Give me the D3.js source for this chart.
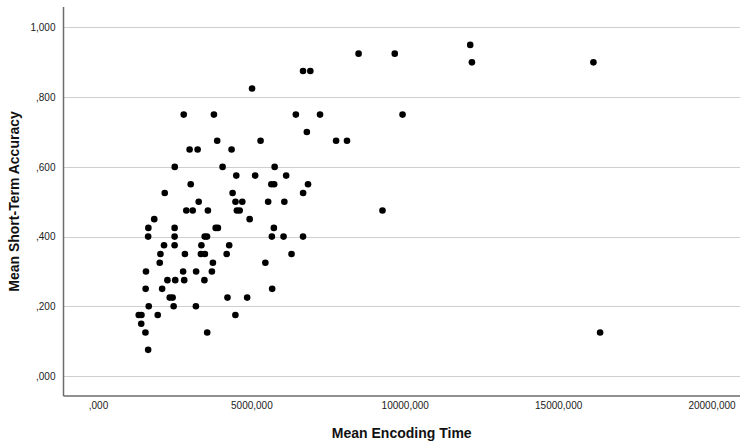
<!DOCTYPE html>
<html>
<head>
<meta charset="utf-8">
<script src="https://cdn.jsdelivr.net/npm/d3@7"></script>
<style>
  html, body { margin: 0; padding: 0; background: #fff; }
  svg { display: block; font-family: "Liberation Sans", Arial, sans-serif; }
</style>
</head>
<body>
<svg id="chart" width="740" height="445"></svg>
<script>
// ---- Data ----
const encodingTime = [
  8495, 9674, 12134, 12189, 16150, 6684, 6922, 5023,
  2795, 3779, 6450, 7238, 9928, 6808,
  3886, 5300, 7762, 8117, 2987, 3248, 4355,
  2502, 4062, 5759, 4508, 5124, 6134,
  3023, 5651, 5743, 6847, 2176, 4388, 6687,
  3283, 4482, 4704, 5547, 6075,
  2879, 3088, 3583, 4528, 4619, 9274, 1834, 4945,
  1642, 2498, 3837, 3909, 5733,
  1635, 2498, 3479, 3554, 5668, 6049, 6684,
  2153, 2498, 3371, 4277,
  2036, 2834, 3355, 3485, 4195, 6309,
  2013, 3746, 5456,
  1564, 2775, 3199, 3713,
  2264, 2518, 2811, 3469,
  1554, 2091, 5678,
  2339, 2433, 4221, 4863,
  1655, 2466, 3192,
  1329, 1417, 1948, 4479,
  1410, 1547, 3560, 16368, 1635
];
const accuracy = [
  0.925, 0.925, 0.95, 0.9, 0.9, 0.875, 0.875, 0.825,
  0.75, 0.75, 0.75, 0.75, 0.75, 0.7,
  0.675, 0.675, 0.675, 0.675, 0.65, 0.65, 0.65,
  0.6, 0.6, 0.6, 0.575, 0.575, 0.575,
  0.55, 0.55, 0.55, 0.55, 0.525, 0.525, 0.525,
  0.5, 0.5, 0.5, 0.5, 0.5,
  0.475, 0.475, 0.475, 0.475, 0.475, 0.475, 0.45, 0.45,
  0.425, 0.425, 0.425, 0.425, 0.425,
  0.4, 0.4, 0.4, 0.4, 0.4, 0.4, 0.4,
  0.375, 0.375, 0.375, 0.375,
  0.35, 0.35, 0.35, 0.35, 0.35, 0.35,
  0.325, 0.325, 0.325,
  0.3, 0.3, 0.3, 0.3,
  0.275, 0.275, 0.275, 0.275,
  0.25, 0.25, 0.25,
  0.225, 0.225, 0.225, 0.225,
  0.2, 0.2, 0.2,
  0.175, 0.175, 0.175, 0.175,
  0.15, 0.125, 0.125, 0.125, 0.075
];
const xTicks = [0, 5000, 10000, 15000, 20000];
const xTickLabels = [",000", "5000,000", "10000,000", "15000,000", "20000,000"];
const yTicks = [0, 0.2, 0.4, 0.6, 0.8, 1.0];
const yTickLabels = [",000", ",200", ",400", ",600", ",800", "1,000"];
const xTitle = "Mean Encoding Time";
const yTitle = "Mean Short-Term Accuracy";

// ---- Layout ----
const svg = d3.select("#chart");
const plotLeft = 63.5, plotRight = 740, plotTop = 7, plotBottom = 396;

const x = d3.scaleLinear().domain([-1124, 20928]).range([plotLeft, plotRight]);
const y = d3.scaleLinear().domain([-0.0574, 1.0588]).range([plotBottom, plotTop]);

// gridlines
svg.append("g")
  .selectAll("line")
  .data(yTicks)
  .join("line")
  .attr("x1", plotLeft).attr("x2", plotRight)
  .attr("y1", d => Math.round(y(d)) + 0.5)
  .attr("y2", d => Math.round(y(d)) + 0.5)
  .attr("stroke", "#cfcfcf")
  .attr("stroke-width", 1.2);

// y axis labels
const yAxis = d3.axisLeft(y)
  .tickValues(yTicks)
  .tickFormat((d, i) => yTickLabels[i])
  .tickSize(0)
  .tickPadding(8);
const gy = svg.append("g").attr("transform", `translate(${plotLeft},0)`).call(yAxis);
gy.select(".domain").remove();
gy.selectAll("text").attr("font-size", 10).attr("fill", "#222")
  .attr("font-family", "'Liberation Sans', Arial, sans-serif");

// x axis labels
const xAxis = d3.axisBottom(x)
  .tickValues(xTicks)
  .tickFormat((d, i) => xTickLabels[i])
  .tickSize(0)
  .tickPadding(6);
const gx = svg.append("g").attr("transform", `translate(0,${plotBottom})`).call(xAxis);
gx.select(".domain").remove();
gx.selectAll("text").attr("font-size", 10).attr("fill", "#222")
  .attr("font-family", "'Liberation Sans', Arial, sans-serif");

// axis lines
svg.append("line")
  .attr("x1", plotLeft).attr("x2", plotLeft).attr("y1", plotTop).attr("y2", plotBottom)
  .attr("stroke", "#6b6b6b").attr("stroke-width", 1.5);
svg.append("line")
  .attr("x1", plotLeft).attr("x2", plotRight).attr("y1", plotBottom).attr("y2", plotBottom)
  .attr("stroke", "#6b6b6b").attr("stroke-width", 1.5);

// points
svg.append("g")
  .selectAll("circle")
  .data(encodingTime.map((t, i) => ({ t, a: accuracy[i] })))
  .join("circle")
  .attr("cx", d => x(d.t))
  .attr("cy", d => y(d.a))
  .attr("r", 3.3)
  .attr("fill", "#000");

// axis titles
svg.append("text")
  .attr("x", (plotLeft + plotRight) / 2)
  .attr("y", 438)
  .attr("text-anchor", "middle")
  .attr("font-size", 14)
  .attr("font-weight", "bold")
  .attr("fill", "#111")
  .text(xTitle);

svg.append("text")
  .attr("transform", `translate(19,${(plotTop + plotBottom) / 2}) rotate(-90)`)
  .attr("text-anchor", "middle")
  .attr("font-size", 14)
  .attr("font-weight", "bold")
  .attr("fill", "#111")
  .text(yTitle);
</script>
</body>
</html>
